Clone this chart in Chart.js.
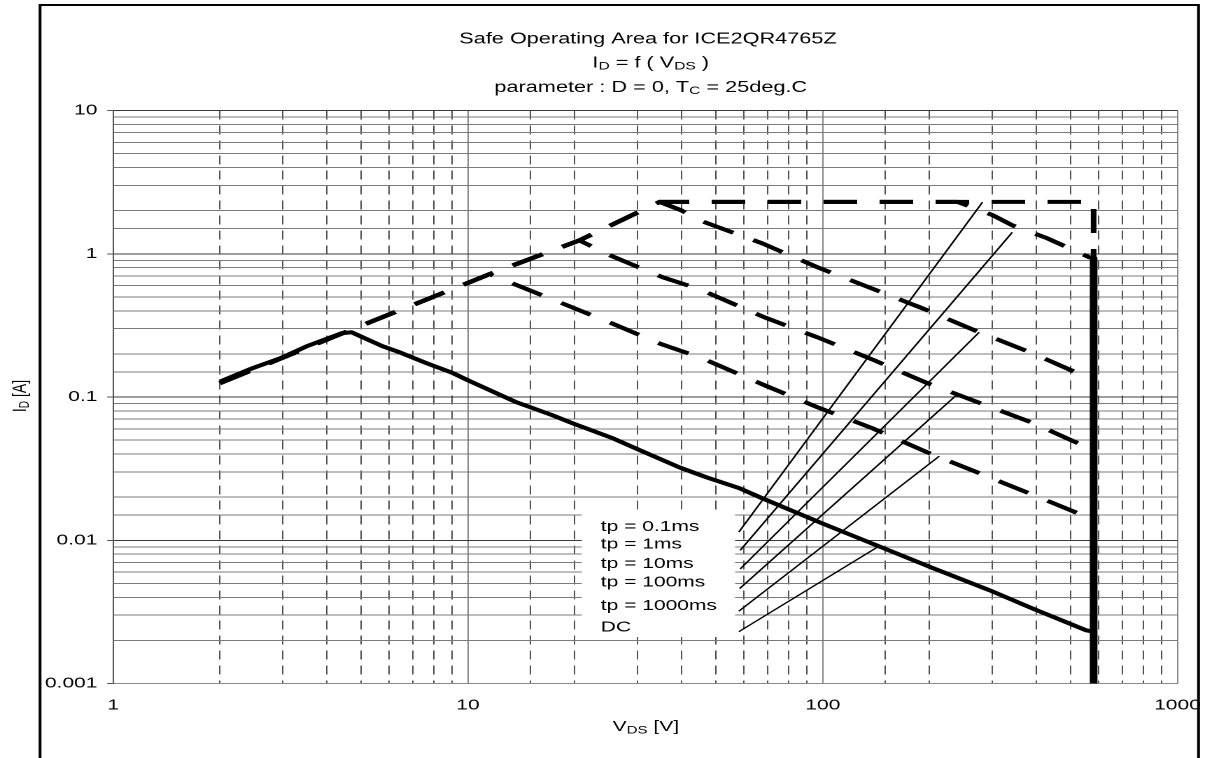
<!DOCTYPE html>
<html>
<head>
<meta charset="utf-8">
<script src="https://cdn.jsdelivr.net/npm/chart.js@4.4.0/dist/chart.umd.min.js"></script>
<style>
  html, body { margin: 0; padding: 0; background: #fff; overflow: hidden; }
  /* the original sheet is drawn wide: render narrow, then stretch sideways */
  #wrap { width: 861px; height: 758px; transform: scaleX(1.3995); transform-origin: 0 0; }
</style>
</head>
<body>
<div id="wrap"><canvas id="soa"></canvas></div>
<script>
// Safe Operating Area  ICE2QR4765Z,  I_D = f(V_DS), log / log

// pulse curves: common R_DS(on) rise up to their knee, then power limit
// tp = 0.1ms : rise, 2.3A current limit, V_DSS drop
const tp01V = [2, 4.85, 11.5, 20.6, 34.7, 580, 580];
const tp01I = [0.125, 0.305, 0.72, 1.24, 2.3, 2.3, 0.93];
// tp = 1ms
const tp1V = [2, 4.85, 11.5, 20.6, 34.7, 240, 301, 342, 430, 564, 580];
const tp1I = [0.125, 0.305, 0.72, 1.24, 2.3, 2.3, 1.86, 1.58, 1.28, 0.945, 0.93];
// tp = 10ms
const tp10V = [2, 4.85, 11.5, 20.6, 34.7, 39.9, 45, 67.6, 96.6, 137, 191, 276, 390, 557, 580];
const tp10I = [0.125, 0.305, 0.72, 1.24, 2.3, 2.01, 1.71, 1.18, 0.805, 0.574, 0.416, 0.283, 0.202, 0.137, 0.133];
// tp = 100ms
const tp100V = [2, 4.85, 11.5, 20.6, 25.1, 35.4, 45, 68.5, 96.6, 140, 197, 390, 564, 580];
const tp100I = [0.125, 0.305, 0.72, 1.24, 0.976, 0.685, 0.565, 0.36, 0.261, 0.18, 0.125, 0.066, 0.0438, 0.0425];
// tp = 1000ms
const tp1000V = [2, 4.85, 11.5, 18.1, 25.4, 35.1, 45, 68.5, 96.6, 138, 197, 276, 394, 557, 580];
const tp1000I = [0.125, 0.305, 0.72, 0.459, 0.327, 0.2335, 0.1895, 0.1208, 0.0848, 0.0605, 0.0411, 0.0294, 0.0206, 0.0145, 0.014];
// DC
const dcV = [2, 2.47, 2.95, 3.51, 4.41, 4.7, 5.05, 5.75, 6.42, 7.65, 9.06, 9.98, 13.7, 17.3, 19.7, 25.6, 30.5, 39.4, 47, 58.2, 67.6, 99.7, 142, 204, 295, 389, 553, 580];
const dcI = [0.128, 0.159, 0.186, 0.226, 0.279, 0.283, 0.261, 0.226, 0.205, 0.172, 0.147, 0.131, 0.0919, 0.0746, 0.0656, 0.0515, 0.0425, 0.0323, 0.0275, 0.0231, 0.0196, 0.0131, 0.0092, 0.0064, 0.00448, 0.00335, 0.00235, 0.0023];
// V_DSS limit
const vdssV = [580, 580];
const vdssI = [0.93, 0.001];

// label leaders (from text to curve)
const curveLabels = ['tp = 0.1ms', 'tp = 1ms', 'tp = 10ms', 'tp = 100ms', 'tp = 1000ms', 'DC'];
const leadFromV = [58, 58.5, 58.5, 58.3, 58, 58];
const leadFromI = [0.0114, 0.0085, 0.0063, 0.0046, 0.0032, 0.0023];
const leadToV = [282, 342, 276, 238, 213, 142];
const leadToI = [2.29, 1.41, 0.283, 0.103, 0.0386, 0.0089];

const xTickValues = [1, 10, 100, 1000];
const xTickLabels = ['1', '10', '100', '1000'];
const yTickValues = [0.001, 0.01, 0.1, 1, 10];
const yTickLabels = ['0.001', '0.01', '0.1', '1', '10'];

const FONT = '"Liberation Sans", Arial, sans-serif';

function pts(vs, is) { return vs.map((v, k) => ({ x: v, y: is[k] })); }
function isDecade(v) { const l = Math.log10(v); return Math.abs(l - Math.round(l)) < 1e-6; }
function findTick(v, list) { return list.findIndex(t => Math.abs(Math.log10(v) - Math.log10(t)) < 1e-6); }

// text with subscripts, parts = [{t, sub}]
function richText(ctx, parts, x, y, size, align) {
  let w = 0;
  parts.forEach(p => { ctx.font = (p.sub ? size * 0.72 : size) + 'px ' + FONT; w += ctx.measureText(p.t).width; });
  let cx = align === 'center' ? x - w / 2 : x;
  parts.forEach(p => {
    const fs = p.sub ? size * 0.72 : size;
    ctx.font = fs + 'px ' + FONT;
    ctx.fillText(p.t, cx, p.sub ? y + size * 0.22 : y);
    cx += ctx.measureText(p.t).width;
  });
}

const decorPlugin = {
  id: 'decor',
  beforeDraw(chart) {
    // outer frame, under the tick labels
    const ctx = chart.ctx;
    ctx.save();
    ctx.strokeStyle = '#000';
    ctx.lineWidth = 2;
    ctx.beginPath();
    ctx.moveTo(28.6, 770);
    ctx.lineTo(28.6, 5);
    ctx.lineTo(856.4, 5);
    ctx.lineTo(856.4, 770);
    ctx.stroke();
    ctx.restore();
  },
  beforeDatasetsDraw(chart) {
    // white box behind the curve labels
    const ctx = chart.ctx;
    ctx.save();
    ctx.fillStyle = '#fff';
    ctx.fillRect(415.7, 513, 109.5, 124);
    ctx.fillStyle = '#000';
    ctx.textBaseline = 'middle';
    ctx.font = '15px ' + FONT;
    const ys = [527, 544.5, 564, 582.5, 606, 627.5];
    curveLabels.forEach((s, k) => ctx.fillText(s, 429.3, ys[k]));
    ctx.restore();
  },
  afterDraw(chart) {
    const ctx = chart.ctx;
    ctx.save();
    ctx.fillStyle = '#000';
    ctx.textBaseline = 'middle';
    ctx.textAlign = 'left';
    richText(ctx, [{ t: 'Safe Operating Area for ICE2QR4765Z' }], 463, 39, 15.5, 'center');
    richText(ctx, [{ t: 'I' }, { t: 'D', sub: true }, { t: ' = f ( V' }, { t: 'DS', sub: true }, { t: ' )' }], 465, 63, 15.5, 'center');
    richText(ctx, [{ t: 'parameter : D = 0, T' }, { t: 'C', sub: true }, { t: ' = 25deg.C' }], 465, 87.5, 15.5, 'center');
    // axis titles
    richText(ctx, [{ t: 'V' }, { t: 'DS', sub: true }, { t: ' [V]' }], 461.5, 727, 15, 'center');
    ctx.translate(14.5, 396);
    ctx.rotate(-Math.PI / 2);
    richText(ctx, [{ t: 'I' }, { t: 'D', sub: true }, { t: ' [A]' }], 0, 0, 14, 'center');
    ctx.restore();
  }
};

const heavy = { borderColor: '#000', borderWidth: 4, pointRadius: 0, fill: false, tension: 0, borderCapStyle: 'butt', borderJoinStyle: 'round' };
const dashed = [24, 16];

const datasets = [
  { ...heavy, data: pts(dcV, dcI) },
  { ...heavy, borderWidth: 5.5, data: pts(vdssV, vdssI) },
  { ...heavy, borderDash: dashed, data: pts(tp1000V, tp1000I) },
  { ...heavy, borderDash: dashed, data: pts(tp100V, tp100I) },
  { ...heavy, borderDash: dashed, data: pts(tp10V, tp10I) },
  { ...heavy, borderDash: dashed, data: pts(tp1V, tp1I) },
  { ...heavy, borderDash: dashed, borderJoinStyle: 'miter', data: pts(tp01V, tp01I) }
];
curveLabels.forEach((s, k) => {
  datasets.push({
    borderColor: '#000', borderWidth: 1.3, pointRadius: 0, tension: 0, fill: false,
    data: pts([leadFromV[k], leadToV[k]], [leadFromI[k], leadToI[k]])
  });
});

new Chart(document.getElementById('soa'), {
  type: 'line',
  data: { datasets },
  options: {
    responsive: true,
    maintainAspectRatio: false,
    animation: false,
    devicePixelRatio: 2,
    events: [],
    layout: { padding: { top: 110.5, right: 19.6, bottom: 0, left: 0 } },
    plugins: { legend: { display: false }, tooltip: { enabled: false }, title: { display: false } },
    scales: {
      x: {
        type: 'logarithmic', min: 1, max: 1000,
        afterFit: s => { s.height = 74.5; },
        grid: {
          color: c => (c.tick && isDecade(c.tick.value)) ? '#8a8a8a' : '#505050',
          lineWidth: 1, drawTicks: true, tickLength: 13, tickColor: 'rgba(0,0,0,0)'
        },
        border: { color: '#8a8a8a', dash: c => (c.tick && !isDecade(c.tick.value)) ? [9, 6] : [] },
        ticks: {
          autoSkip: false, maxRotation: 0, padding: 0, color: '#000',
          font: { family: FONT, size: 15 },
          callback: v => { const k = findTick(v, xTickValues); return k < 0 ? '' : xTickLabels[k]; }
        }
      },
      y: {
        type: 'logarithmic', min: 0.001, max: 10,
        afterFit: s => { s.width = 80.9; },
        grid: {
          color: c => (c.tick && isDecade(c.tick.value)) ? '#3a3a3a' : '#7a7a7a',
          lineWidth: 1, tickLength: 4.3,
          tickColor: c => (c.tick && isDecade(c.tick.value)) ? '#555' : 'rgba(0,0,0,0)'
        },
        border: { color: '#555' },
        ticks: {
          autoSkip: false, padding: 7, color: '#000',
          font: { family: FONT, size: 15 },
          callback: v => { const k = findTick(v, yTickValues); return k < 0 ? '' : yTickLabels[k]; }
        }
      }
    }
  },
  plugins: [decorPlugin]
});
</script>
</body>
</html>
